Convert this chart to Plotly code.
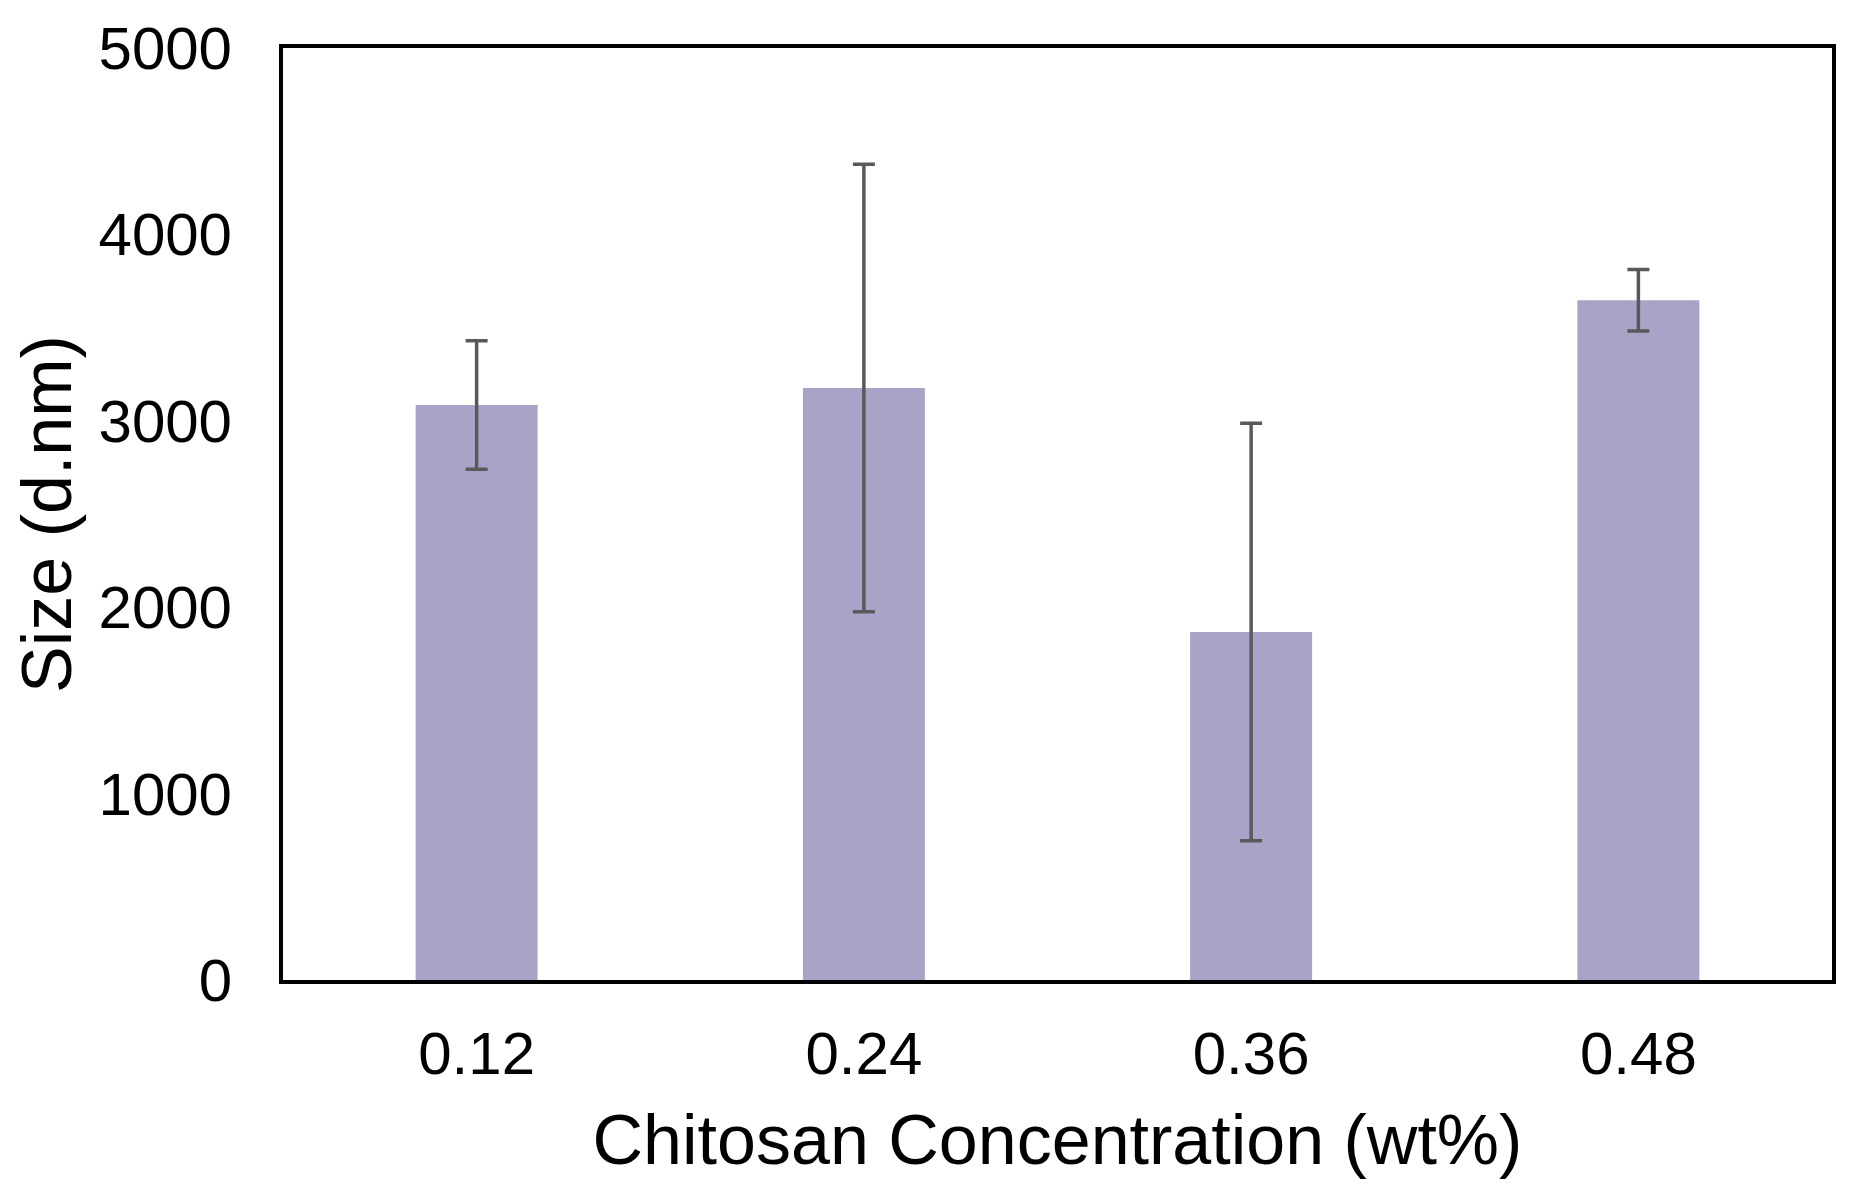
import plotly.graph_objects as go

categories = ["0.12", "0.24", "0.36", "0.48"]
sizes = [3085, 3176, 1867, 3647]
errors = [345, 1200, 1120, 165]
y_ticks = [0, 1000, 2000, 3000, 4000, 5000]

fig = go.Figure()
fig.add_trace(go.Bar(
    x=categories, y=sizes, width=0.315,
    marker=dict(color="#A8A4C8", line=dict(width=0)),
    error_y=dict(type="data", array=errors, visible=True,
                 color="#595959", thickness=3.5, width=11),
))

font = "Liberation Sans, Arial, sans-serif"
fig.update_layout(
    width=1855, height=1192,
    margin=dict(l=275, r=31, t=40, b=220),
    plot_bgcolor="white", paper_bgcolor="white",
    showlegend=False,
    font=dict(family=font, color="black"),
)
fig.update_xaxes(
    showline=True, linewidth=4, linecolor="black", mirror=True,
    showgrid=False, ticks="", tickfont=dict(size=60, family=font),
    ticklabelstandoff=18, automargin=False,
    title=dict(text="Chitosan Concentration (wt%)", font=dict(size=70, family=font), standoff=30),
)
fig.update_yaxes(
    range=[0, 5000], tickvals=y_ticks,
    showline=True, linewidth=4, linecolor="black", mirror=True,
    showgrid=False, zeroline=False, ticks="", tickfont=dict(size=60, family=font),
    ticklabelstandoff=35, ticklabeloverflow="allow", automargin=False,
    title=dict(text="Size (d.nm)", font=dict(size=70, family=font), standoff=28),
)
fig.write_html("out.html")
